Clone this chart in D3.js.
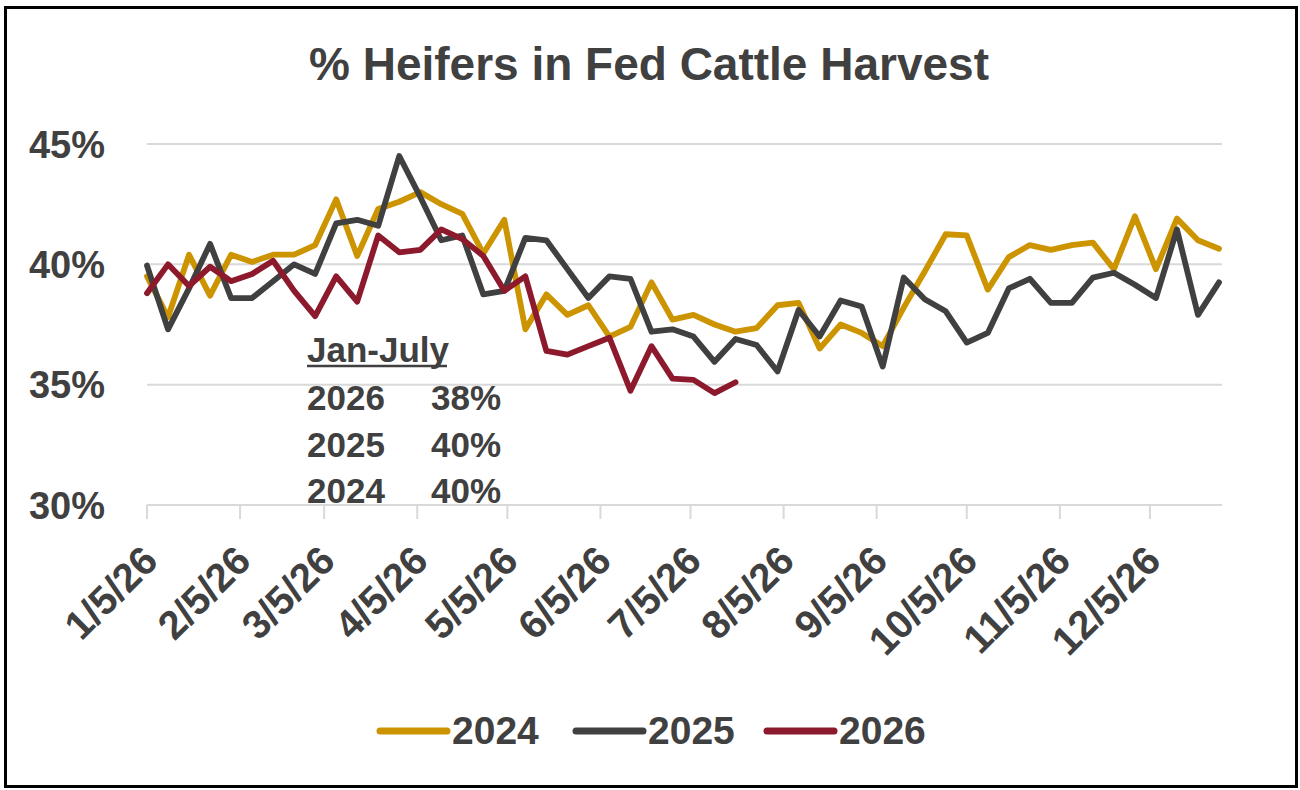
<!DOCTYPE html>
<html>
<head>
<meta charset="utf-8">
<script src="https://cdn.jsdelivr.net/npm/d3@7"></script>
<style>
  html, body { margin: 0; padding: 0; background: #ffffff; }
  svg { display: block; }
  text { font-family: "Liberation Sans", Arial, sans-serif; font-weight: bold; fill: #404040; }
</style>
</head>
<body>
<svg id="chart" width="1300" height="790"></svg>
<script>
// ---- data ----
const weeks = ["1/5/26","1/12/26","1/19/26","1/26/26","2/2/26","2/9/26","2/16/26","2/23/26",
  "3/2/26","3/9/26","3/16/26","3/23/26","3/30/26","4/6/26","4/13/26","4/20/26","4/27/26",
  "5/4/26","5/11/26","5/18/26","5/25/26","6/1/26","6/8/26","6/15/26","6/22/26","6/29/26",
  "7/6/26","7/13/26","7/20/26","7/27/26","8/3/26","8/10/26","8/17/26","8/24/26","8/31/26",
  "9/7/26","9/14/26","9/21/26","9/28/26","10/5/26","10/12/26","10/19/26","10/26/26",
  "11/2/26","11/9/26","11/16/26","11/23/26","11/30/26","12/7/26","12/14/26","12/21/26","12/28/26"];

const s2024 = [39.5,37.8,40.4,38.7,40.4,40.1,40.4,40.4,40.8,42.7,40.35,42.3,42.6,43.0,42.5,42.1,
  40.45,41.85,37.3,38.75,37.9,38.3,37.0,37.4,39.25,37.7,37.9,37.5,37.2,37.35,38.3,38.4,36.5,37.5,
  37.15,36.6,38.2,39.7,41.25,41.2,38.95,40.3,40.8,40.6,40.8,40.9,39.8,42.0,39.8,41.9,41.0,40.65];

const s2025 = [39.95,37.3,39.0,40.85,38.6,38.6,39.3,40.0,39.6,41.7,41.85,41.6,44.5,42.8,41.0,41.2,
  38.75,38.9,41.1,41.0,39.8,38.6,39.5,39.4,37.2,37.3,37.0,35.95,36.9,36.65,35.55,38.1,37.0,38.5,
  38.25,35.75,39.45,38.55,38.05,36.75,37.15,39.0,39.4,38.4,38.4,39.45,39.65,39.15,38.6,41.45,37.9,39.25];

const s2026 = [38.8,40.0,39.1,39.9,39.3,39.6,40.15,38.9,37.85,39.5,38.45,41.2,40.5,40.6,41.45,41.05,
  40.35,38.9,39.5,36.4,36.25,36.6,36.95,34.75,36.6,35.25,35.2,34.65,35.1];

const seriesNames = ["2024","2025","2026"];
const seriesColors = ["#CC9400","#404040","#8C1A2C"];
const tickLabels = ["1/5/26","2/5/26","3/5/26","4/5/26","5/5/26","6/5/26","7/5/26","8/5/26",
  "9/5/26","10/5/26","11/5/26","12/5/26"];
const yTicks = [30,35,40,45];
const domainEnd = "12/29/26";

const noteHeader = "Jan-July";
const noteYears = ["2026","2025","2024"];
const noteValues = ["38%","40%","40%"];

// ---- drawing ----
const parse = d3.timeParse("%m/%d/%y");
const svg = d3.select("#chart");

const x = d3.scaleTime().domain([parse(weeks[0]), parse(domainEnd)]).range([147, 1222]);
const y = d3.scaleLinear().domain([30, 45]).range([505, 144]);

// border
svg.append("rect").attr("x", 5.5).attr("y", 7.5).attr("width", 1291).attr("height", 779)
  .attr("fill", "#fff").attr("stroke", "#000").attr("stroke-width", 3);

// title
svg.append("text").attr("x", 649).attr("y", 80).attr("text-anchor", "middle")
  .style("font-size", "46px").text("% Heifers in Fed Cattle Harvest");

// gridlines
svg.append("g").selectAll("line").data(yTicks).join("line")
  .attr("x1", 147).attr("x2", 1222)
  .attr("y1", d => y(d)).attr("y2", d => y(d))
  .attr("stroke", "#D9D9D9").attr("stroke-width", 2);

// y labels
svg.append("g").selectAll("text").data(yTicks).join("text")
  .attr("x", 105).attr("y", d => y(d)).attr("dy", "0.36em")
  .attr("text-anchor", "end").style("font-size", "38px")
  .text(d => d + "%");

// x axis ticks
const tickDates = tickLabels.map(parse);
svg.append("g").selectAll("line").data(tickDates).join("line")
  .attr("x1", d => x(d)).attr("x2", d => x(d))
  .attr("y1", y(30)).attr("y2", y(30) + 14)
  .attr("stroke", "#D9D9D9").attr("stroke-width", 2);

svg.append("g").selectAll("text").data(tickLabels).join("text")
  .attr("text-anchor", "end")
  .attr("transform", d => `translate(${x(parse(d)) + 13},${563}) rotate(-45)`)
  .style("font-size", "40px")
  .text(d => d);

// lines
const allSeries = [s2024, s2025, s2026];
const line = d3.line().x((d, i) => x(parse(weeks[i]))).y(d => y(d));
allSeries.forEach((s, k) => {
  svg.append("path").datum(s)
    .attr("d", line)
    .attr("fill", "none")
    .attr("stroke", seriesColors[k])
    .attr("stroke-width", 5.8)
    .attr("stroke-linejoin", "round")
    .attr("stroke-linecap", "round");
});

// annotation
svg.append("text").attr("x", 307).attr("y", 362).style("font-size", "35px").text(noteHeader);
svg.append("line").attr("x1", 307).attr("x2", 447).attr("y1", 366).attr("y2", 366)
  .attr("stroke", "#404040").attr("stroke-width", 2.5);
noteYears.forEach((yr, i) => {
  svg.append("text").attr("x", 307).attr("y", 410 + i * 46.5).style("font-size", "35px").text(yr);
  svg.append("text").attr("x", 431).attr("y", 410 + i * 46.5).style("font-size", "35px").text(noteValues[i]);
});

// legend
const legX = [380, 576, 767];
seriesNames.forEach((n, i) => {
  svg.append("line").attr("x1", legX[i]).attr("x2", legX[i] + 67)
    .attr("y1", 731).attr("y2", 731)
    .attr("stroke", seriesColors[i]).attr("stroke-width", 7).attr("stroke-linecap", "round");
  svg.append("text").attr("x", legX[i] + 72).attr("y", 744).style("font-size", "39px").text(n);
});
</script>
</body>
</html>
